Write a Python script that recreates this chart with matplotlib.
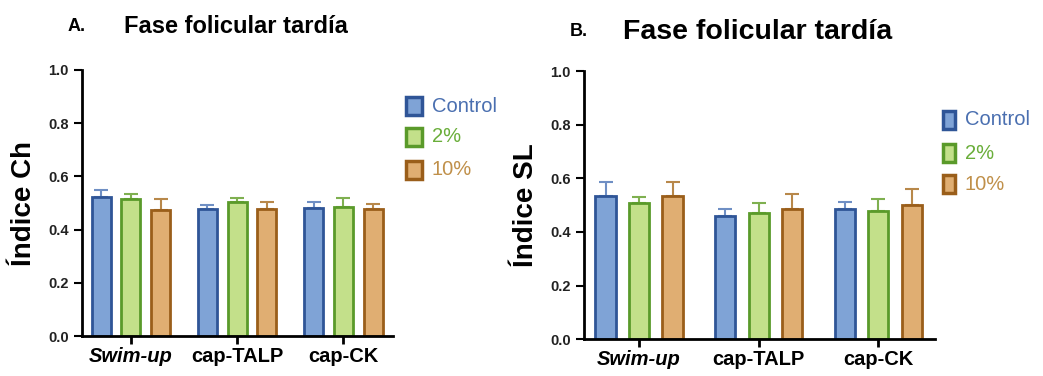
import matplotlib
matplotlib.use("Agg")
import matplotlib.pyplot as plt
import numpy as np

plt.rcParams['font.family'] = ['Liberation Sans', 'DejaVu Sans']

groups = ['Swim-up', 'cap-TALP', 'cap-CK']
series = ['Control', '2%', '10%']

# Panel A - Indice Ch
ch_mean = [[0.523, 0.477, 0.483],
           [0.515, 0.504, 0.487],
           [0.474, 0.477, 0.477]]
ch_err = [[0.026, 0.015, 0.022],
          [0.018, 0.016, 0.031],
          [0.040, 0.028, 0.021]]

# Panel B - Indice SL
sl_mean = [[0.534, 0.459, 0.485],
           [0.507, 0.470, 0.478],
           [0.534, 0.485, 0.500]]
sl_err = [[0.052, 0.026, 0.026],
          [0.023, 0.037, 0.044],
          [0.052, 0.056, 0.060]]

fills = ['#7FA3D6', '#C3E08A', '#E0AE72']
edges = ['#2F5597', '#5A9A2A', '#9A5E1A']
errc = ['#6F8FC4', '#7FB050', '#B8884A']
txtc = ['#4A6FB0', '#6AAE3A', '#C0904A']

fig = plt.figure(figsize=(10.43, 3.76), dpi=100)


def panel(rect, means, errs, ylabel, letter, title, lx, tx, ty, tsize, width, legx, legy, legsq):
    ax = fig.add_axes(rect)
    x = np.arange(len(groups))
    for i in range(3):
        pos = x + (i - 1) * 0.28
        ax.bar(pos, means[i], width, color=fills[i], edgecolor=edges[i], linewidth=2, zorder=2)
        ax.errorbar(pos, means[i], yerr=[np.zeros(3), errs[i]], fmt='none',
                    ecolor=errc[i], elinewidth=1.5, capsize=5, capthick=1.5, zorder=1)
    ax.set_xlim(-0.46, 2.47)
    ax.set_ylim(0, 1.0)
    ax.set_yticks([0, 0.2, 0.4, 0.6, 0.8, 1.0])
    ax.set_yticklabels(['0.0', '0.2', '0.4', '0.6', '0.8', '1.0'])
    ax.set_xticks(x)
    ax.set_xticklabels(groups, fontsize=14.5, fontweight='bold')
    ax.get_xticklabels()[0].set_style('italic')
    for s in ['top', 'right']:
        ax.spines[s].set_visible(False)
    for s in ['left', 'bottom']:
        ax.spines[s].set_linewidth(2)
    ax.tick_params(axis='y', width=1.5, length=6, labelsize=10.5)
    ax.tick_params(axis='x', width=2, length=6, pad=2)
    for t in ax.get_yticklabels():
        t.set_fontweight('bold')
        t.set_color('#222222')
    ax.set_ylabel(ylabel, fontsize=20, fontweight='bold', labelpad=8)
    fig.text(lx, ty, letter, fontsize=13, fontweight='bold', ha='left', va='center')
    fig.text(tx, ty, title, fontsize=tsize, fontweight='bold', ha='left', va='center')
    # legend
    for i in range(3):
        fig.patches.append(plt.Rectangle((legx, legy[i] - 0.024), legsq, 0.048,
                                         transform=fig.transFigure, facecolor=fills[i],
                                         edgecolor=edges[i], linewidth=2.5))
        fig.text(legx + legsq + 0.009, legy[i], series[i], fontsize=14.5, color=txtc[i],
                 ha='left', va='center')
    return ax


panel([0.0786, 0.106, 0.2985, 0.708], ch_mean, ch_err, 'Índice Ch', 'A.', 'Fase folicular tardía',
      0.065, 0.119, 0.93, 17, 0.18, 0.389, [0.718, 0.636, 0.548], 0.016)
panel([0.56, 0.098, 0.336, 0.713], sl_mean, sl_err, 'Índice SL', 'B.', 'Fase folicular tardía',
      0.546, 0.597, 0.915, 20.5, 0.17, 0.904, [0.681, 0.592, 0.51], 0.012)

fig.savefig('out.png', dpi=100)
